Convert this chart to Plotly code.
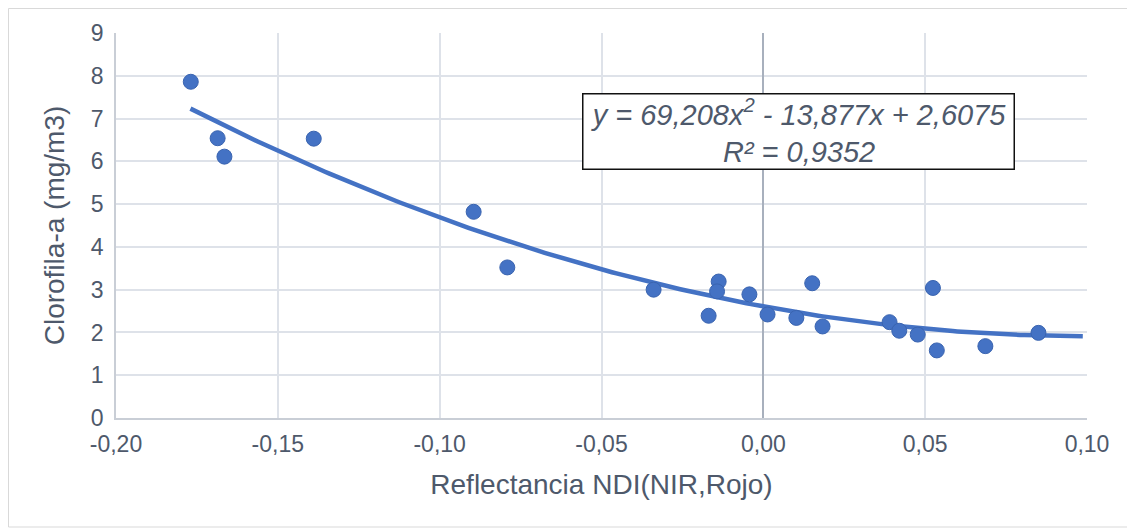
import numpy as np
import plotly.graph_objects as go

ndi = [-0.1769, -0.1686, -0.1665, -0.1389, -0.0895, -0.0791, -0.0339, -0.0138,
       -0.0143, -0.0169, -0.0043, 0.0013, 0.0102, 0.0151, 0.0183, 0.0390,
       0.0420, 0.0477, 0.0524, 0.0536, 0.0686, 0.0850]
clorofila = [7.86, 6.54, 6.11, 6.53, 4.82, 3.52, 3.00, 3.19,
             2.96, 2.39, 2.89, 2.42, 2.34, 3.15, 2.14, 2.24,
             2.04, 1.95, 3.04, 1.58, 1.68, 1.99]

x_tickvals = [-0.20, -0.15, -0.10, -0.05, 0.00, 0.05, 0.10]
x_ticktext = ["-0,20", "-0,15", "-0,10", "-0,05", "0,00", "0,05", "0,10"]
y_tickvals = [0, 1, 2, 3, 4, 5, 6, 7, 8, 9]

# Polynomial trend coefficients (as printed on the chart)
coef_a, coef_b, coef_c = 69.208, -13.877, 2.6075
trend_x = np.linspace(-0.177, 0.0987, 200)
trend_y = coef_a * trend_x**2 + coef_b * trend_x + coef_c

blue = "#4472C4"
txt = "#4E596B"
font = "Liberation Sans, Arial, sans-serif"

# page body has an 8px margin, so the figure starts at (8, 8) on screen
W, H = 1127, 523
L, T, R, B = 108, 25, 48, 113
pw, ph = W - L - R, H - T - B

fig = go.Figure()
fig.add_trace(go.Scatter(x=trend_x, y=trend_y, mode="lines",
                         line=dict(color=blue, width=4.5), hoverinfo="skip",
                         showlegend=False))
fig.add_trace(go.Scatter(x=ndi, y=clorofila, mode="markers",
                         marker=dict(color=blue, size=15,
                                     line=dict(color="#3A64B0", width=1)),
                         showlegend=False))

fig.update_layout(
    width=W, height=H,
    margin=dict(l=L, r=R, t=T, b=B, pad=0),
    paper_bgcolor="white", plot_bgcolor="white",
    font=dict(family=font, color=txt, size=23),
    xaxis=dict(range=[-0.2, 0.1], tickvals=x_tickvals, ticktext=x_ticktext,
               showgrid=True, gridcolor="#DEE2E9", gridwidth=1.5,
               zeroline=True, zerolinecolor="#A8B0BD", zerolinewidth=1.5,
               showline=True, linecolor="#C9CED6", linewidth=1.5,
               ticks="", tickfont=dict(size=23, color=txt),
               ticklabelstandoff=5,
               title=dict(text="Reflectancia NDI(NIR,Rojo)",
                          font=dict(size=28, color=txt), standoff=18)),
    yaxis=dict(range=[0, 9], tickvals=y_tickvals,
               showgrid=True, gridcolor="#DEE2E9", gridwidth=1.5,
               zeroline=False,
               showline=True, linecolor="#C9CED6", linewidth=1.5,
               ticks="", tickfont=dict(size=23, color=txt),
               ticklabelstandoff=6,
               title=dict(text="Clorofila-a (mg/m3)",
                          font=dict(size=28, color=txt), standoff=18)),
    shapes=[dict(type="rect", xref="paper", yref="paper",
                 x0=(0.5 - L) / pw, x1=(1122 - L) / pw,
                 y0=(ph + T - 519) / ph, y1=(ph + T - 0.5) / ph,
                 line=dict(color="#D9D9D9", width=1), layer="below")],
    annotations=[dict(
        xref="paper", yref="paper",
        x=(798 - 116) / 971, y=(418 - 132) / 385,
        xanchor="center", yanchor="middle", showarrow=False,
        text="<i>y = 69,208x<sup>2</sup> - 13,877x + 2,6075</i><br><i>R² = 0,9352</i>",
        font=dict(size=29, color=txt, family=font),
        bgcolor="white", bordercolor="#111111", borderwidth=1.5, borderpad=0,
        width=430, align="center")],
)

fig.write_html("out.html")
